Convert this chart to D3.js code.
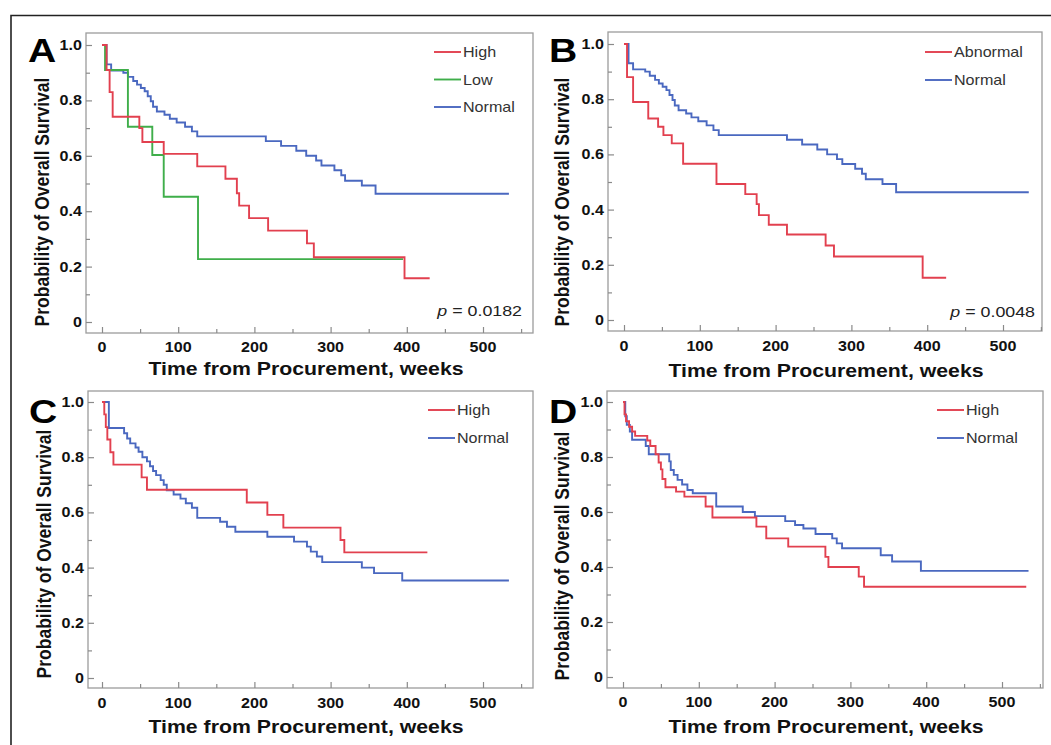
<!DOCTYPE html>
<html><head><meta charset="utf-8">
<script src="https://cdn.jsdelivr.net/npm/d3@7"></script>
<style>
html,body{margin:0;padding:0;background:#fff;}
svg{display:block;}
text{font-family:"Liberation Sans",Arial,Helvetica,sans-serif;}
</style></head><body>
<svg id="chart" width="1051" height="745"></svg>
<script>
// ---------- DATA ----------
const xTickValues = [0, 100, 200, 300, 400, 500];
const xTickLabels = ["0", "100", "200", "300", "400", "500"];
const xMinorValues = [50, 150, 250, 350, 450, 550];
const yTickValues = [0, 0.2, 0.4, 0.6, 0.8, 1.0];
const yTickLabels = ["0", "0.2", "0.4", "0.6", "0.8", "1.0"];
const yMinorValues = [0.1, 0.3, 0.5, 0.7, 0.9];

// Panel A / B shared "Normal" group
const normalAB_time = [0, 6, 12, 28, 34, 41, 46, 51, 56, 60, 64, 67, 72, 82, 89, 98, 109, 118, 125, 215, 235, 255, 268, 281, 288, 305, 314, 319, 341, 359, 534];
const normalAB_surv = [1, 0.93, 0.908, 0.90, 0.885, 0.87, 0.857, 0.845, 0.833, 0.815, 0.797, 0.777, 0.76, 0.748, 0.734, 0.72, 0.705, 0.688, 0.67, 0.653, 0.636, 0.618, 0.60, 0.583, 0.565, 0.548, 0.53, 0.51, 0.493, 0.463, 0.463];

// Panel A
const highA_time = [0, 6, 10, 14, 49, 53, 81, 125, 162, 177, 180, 193, 218, 269, 278, 397, 430];
const highA_surv = [1, 0.91, 0.83, 0.741, 0.70, 0.65, 0.607, 0.562, 0.517, 0.465, 0.42, 0.375, 0.33, 0.284, 0.234, 0.158, 0.158];
const lowA_time = [0, 4, 34, 66, 81, 126, 395];
const lowA_surv = [1, 0.91, 0.705, 0.603, 0.452, 0.227, 0.227];

// Panel B
const abnormalB_time = [0, 4, 12, 32, 45, 52, 63, 78, 122, 160, 175, 178, 191, 215, 266, 277, 394, 425];
const abnormalB_surv = [1, 0.88, 0.79, 0.73, 0.70, 0.67, 0.64, 0.566, 0.493, 0.456, 0.42, 0.38, 0.345, 0.31, 0.27, 0.23, 0.153, 0.153];

// Panel C
const highC_time = [0, 3, 5, 7, 11, 15, 52, 59, 190, 217, 238, 313, 318, 427];
const highC_surv = [1, 0.955, 0.909, 0.864, 0.818, 0.773, 0.727, 0.682, 0.636, 0.591, 0.545, 0.50, 0.455, 0.455];
const normalC_time = [0, 9, 29, 33, 37, 44, 48, 53, 59, 63, 67, 71, 77, 81, 85, 94, 103, 110, 118, 125, 155, 164, 175, 217, 252, 269, 274, 282, 289, 341, 357, 394, 534];
const normalC_surv = [1, 0.906, 0.887, 0.868, 0.85, 0.835, 0.82, 0.80, 0.785, 0.767, 0.75, 0.735, 0.717, 0.70, 0.68, 0.665, 0.65, 0.633, 0.617, 0.58, 0.566, 0.548, 0.53, 0.512, 0.494, 0.476, 0.458, 0.44, 0.42, 0.40, 0.38, 0.353, 0.353];

// Panel D
const highD_time = [0, 2, 4, 8, 12, 16, 32, 36, 43, 47, 50, 52, 56, 70, 81, 109, 118, 176, 189, 218, 267, 271, 311, 318, 532];
const highD_surv = [1, 0.955, 0.93, 0.91, 0.893, 0.877, 0.86, 0.84, 0.81, 0.78, 0.755, 0.72, 0.69, 0.674, 0.656, 0.62, 0.58, 0.547, 0.504, 0.474, 0.437, 0.40, 0.365, 0.328, 0.328];
const normalD_time = [0, 3, 5, 9, 12, 30, 34, 61, 63, 67, 72, 78, 85, 92, 123, 158, 174, 214, 227, 238, 254, 276, 282, 289, 340, 355, 393, 535];
const normalD_surv = [1, 0.948, 0.917, 0.893, 0.863, 0.84, 0.81, 0.784, 0.753, 0.735, 0.717, 0.70, 0.68, 0.668, 0.62, 0.60, 0.585, 0.567, 0.553, 0.54, 0.52, 0.504, 0.486, 0.468, 0.443, 0.42, 0.386, 0.386];

const pValueA = "0.0182";
const pValueB = "0.0048";
const xTitle = "Time from Procurement, weeks";
const yTitle = "Probability of Overall Survival";

// ---------- STYLE / LAYOUT ----------
const COL = { High: "#e2404f", Abnormal: "#e2404f", Low: "#3fae4a", Normal: "#4a68c0" };
const SX = 1.15;

const panels = [
  { letter: "A", box: [86, 533, 33, 333], xr: [102, 483], yr: [322, 45],
    letterPos: [28, 62], yLab: [48.5, 202], xLab: [306, 375], tickBase: 352,
    legend: { x: 434, y0: 52, dy: 27.5 }, p: pValueA, pPos: [522, 316],
    series: [
      { name: "High", t: highA_time, s: highA_surv },
      { name: "Low", t: lowA_time, s: lowA_surv },
      { name: "Normal", t: normalAB_time, s: normalAB_surv } ] },
  { letter: "B", box: [608, 1042, 32, 331], xr: [624, 1003], yr: [320, 44],
    letterPos: [549, 62], yLab: [569, 202], xLab: [826, 377], tickBase: 351,
    legend: { x: 925, y0: 52, dy: 28 }, p: pValueB, pPos: [1035, 317],
    series: [
      { name: "Abnormal", t: abnormalB_time, s: abnormalB_surv },
      { name: "Normal", t: normalAB_time, s: normalAB_surv } ] },
  { letter: "C", box: [88, 533, 391, 688], xr: [102, 483], yr: [678, 402],
    letterPos: [29, 423], yLab: [51, 554], xLab: [306, 733], tickBase: 708,
    legend: { x: 428, y0: 410, dy: 28 }, p: null,
    series: [
      { name: "High", t: highC_time, s: highC_surv },
      { name: "Normal", t: normalC_time, s: normalC_surv } ] },
  { letter: "D", box: [607, 1043, 391, 688], xr: [623, 1002], yr: [677, 402],
    letterPos: [549, 423], yLab: [569, 556], xLab: [826, 733], tickBase: 707,
    legend: { x: 937, y0: 410, dy: 28 }, p: null,
    series: [
      { name: "High", t: highD_time, s: highD_surv },
      { name: "Normal", t: normalD_time, s: normalD_surv } ] }
];

const svg = d3.select("#chart");

// outer frame
svg.append("path").attr("d", "M11,745 L11,15.5 L1051,15.5")
  .attr("fill", "none").attr("stroke", "#222").attr("stroke-width", 1.6);

function sText(g, x, y, str, size, weight, anchor, fill, style) {
  return g.append("text")
    .attr("transform", `translate(${x},${y}) scale(${SX},1)`)
    .attr("text-anchor", anchor).attr("font-size", size).attr("font-weight", weight)
    .attr("fill", fill).attr("font-style", style || "normal").text(str);
}

panels.forEach(P => {
  const g = svg.append("g");
  const [bx0, bx1, by0, by1] = P.box;
  const x = d3.scaleLinear().domain([0, 500]).range(P.xr);
  const y = d3.scaleLinear().domain([0, 1]).range(P.yr);

  // box
  g.append("rect").attr("x", bx0).attr("y", by0).attr("width", bx1 - bx0).attr("height", by1 - by0)
    .attr("fill", "#fff").attr("stroke", "#9c9c9c").attr("stroke-width", 1.3);

  // axes (ticks inward)
  const axB = g.append("g").attr("transform", `translate(0,${by1})`)
    .call(d3.axisBottom(x).tickValues(xTickValues).tickSizeInner(-6).tickSizeOuter(0).tickFormat(""));
  const axBm = g.append("g").attr("transform", `translate(0,${by1})`)
    .call(d3.axisBottom(x).tickValues(xMinorValues.filter(v => x(v) < bx1 + 1)).tickSizeInner(-4).tickSizeOuter(0).tickFormat(""));
  const axL = g.append("g").attr("transform", `translate(${bx0},0)`)
    .call(d3.axisLeft(y).tickValues(yTickValues).tickSizeInner(-6).tickSizeOuter(0).tickFormat(""));
  const axLm = g.append("g").attr("transform", `translate(${bx0},0)`)
    .call(d3.axisLeft(y).tickValues(yMinorValues).tickSizeInner(-4).tickSizeOuter(0).tickFormat(""));
  [axB, axBm, axL, axLm].forEach(a => {
    a.select(".domain").remove();
    a.selectAll("line").attr("stroke", "#8a8a8a").attr("stroke-width", 1.2);
  });

  // tick labels
  xTickValues.forEach((v, i) => sText(g, x(v), P.tickBase, xTickLabels[i], 14, "bold", "middle", "#111"));
  yTickValues.forEach((v, i) => sText(g, bx0 - 4, y(v) + 5, yTickLabels[i], 14, "bold", "end", "#111"));

  // titles
  sText(g, P.xLab[0], P.xLab[1], xTitle, 18.5, "bold", "middle", "#111");
  g.append("text")
    .attr("transform", `translate(${P.yLab[0]},${P.yLab[1]}) scale(${SX},1) rotate(-90)`)
    .attr("text-anchor", "middle").attr("font-size", 17.5).attr("font-weight", "bold")
    .attr("fill", "#111").text(yTitle);
  sText(g, P.letterPos[0], P.letterPos[1], P.letter, 34, "bold", "start", "#000");

  // curves
  const line = d3.line().x(d => x(d[0])).y(d => y(d[1])).curve(d3.curveStepAfter);
  const order = P.series.slice().reverse();
  order.forEach(S => {
    const pts = S.t.map((t, i) => [t, S.s[i]]);
    g.append("path").datum(pts).attr("d", line)
      .attr("fill", "none").attr("stroke", COL[S.name]).attr("stroke-width", 1.9)
      .attr("stroke-linejoin", "miter");
  });

  // legend
  P.series.forEach((S, i) => {
    const yy = P.legend.y0 + i * P.legend.dy;
    g.append("line").attr("x1", P.legend.x).attr("x2", P.legend.x + 27)
      .attr("y1", yy).attr("y2", yy).attr("stroke", COL[S.name]).attr("stroke-width", 1.9);
    sText(g, P.legend.x + 29, yy + 5, S.name, 14, "normal", "start", "#333");
  });

  // p value
  if (P.p) {
    const t = g.append("text")
      .attr("transform", `translate(${P.pPos[0]},${P.pPos[1]}) scale(${SX},1)`)
      .attr("text-anchor", "end").attr("font-size", 15.5).attr("fill", "#222");
    t.append("tspan").attr("font-style", "italic").text("p");
    t.append("tspan").text(" = " + P.p);
  }
});
</script>
</body></html>
